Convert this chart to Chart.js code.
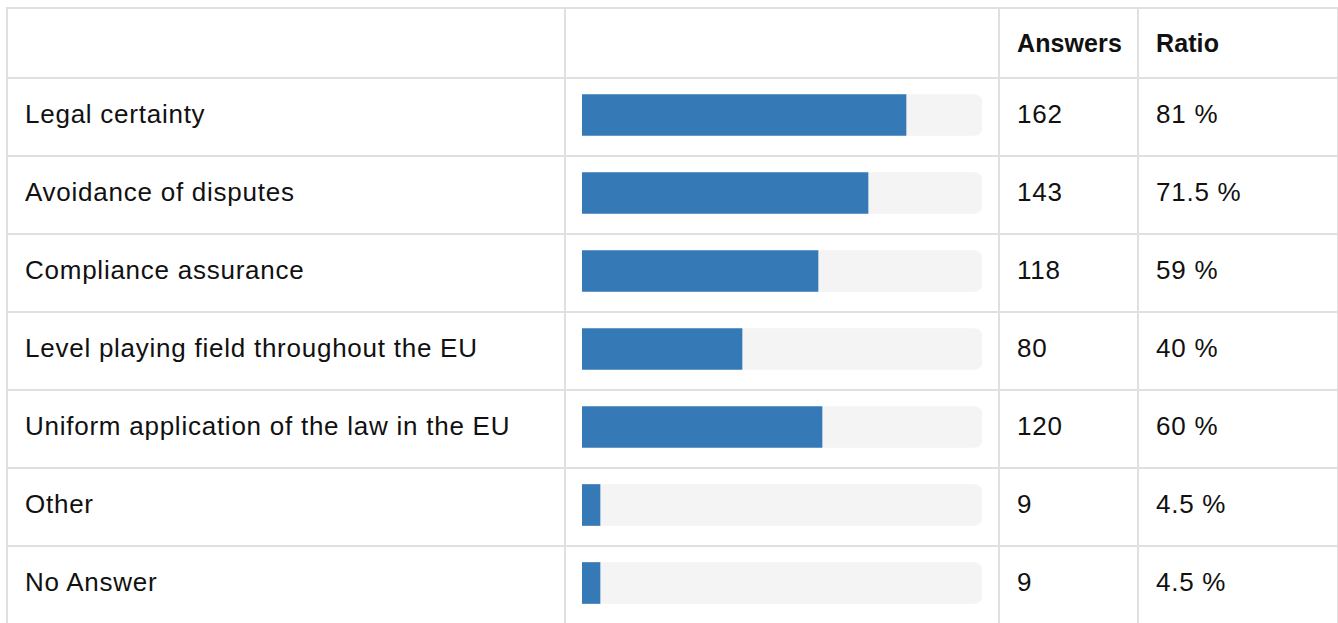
<!DOCTYPE html>
<html>
<head>
<meta charset="utf-8">
<script src="https://cdn.jsdelivr.net/npm/chart.js@4.4.1/dist/chart.umd.min.js"></script>
<style>
    body { margin: 0; background: #fff; width: 1338px; height: 623px; overflow: hidden; position: relative;
           font-family: "Liberation Sans", Arial, Helvetica, sans-serif; }
    table { position: absolute; left: 6px; top: 7px; width: 1331px; border-collapse: collapse; table-layout: fixed; }
    th, td { border: 2px solid #e0e0e0; padding: 0 0 0 17px; font-size: 26px; letter-spacing: 0.75px;
             text-align: left; color: #111; font-weight: normal; }
    thead th { height: 68px; font-weight: bold; letter-spacing: 0.1px; font-size: 25px; }
    tbody td { height: 76px; }
    tbody td span { position: relative; top: -3px; }
    #barWrap { position: absolute; left: 582px; top: 76px; width: 400px; height: 546px; }
</style>
</head>
<body>
<table id="tbl">
    <colgroup>
        <col style="width:558px">
        <col style="width:434px">
        <col style="width:139px">
        <col style="width:200px">
    </colgroup>
    <thead><tr><th></th><th></th><th>Answers</th><th>Ratio</th></tr></thead>
    <tbody id="rows"></tbody>
</table>
<div id="barWrap"><canvas id="barChart"></canvas></div>

<script>
const categories = [
    'Legal certainty',
    'Avoidance of disputes',
    'Compliance assurance',
    'Level playing field throughout the EU',
    'Uniform application of the law in the EU',
    'Other',
    'No Answer'
];
const answers = [162, 143, 118, 80, 120, 9, 9];
const ratios = ['81 %', '71.5 %', '59 %', '40 %', '60 %', '4.5 %', '4.5 %'];
const totalRespondents = 200;

// table rows (text only, bars come from the chart)
const tbody = document.getElementById('rows');
categories.forEach((name, i) => {
    const tr = document.createElement('tr');
    tr.innerHTML = `<td><span>${name}</span></td><td></td><td><span>${answers[i]}</span></td><td><span>${ratios[i]}</span></td>`;
    tbody.appendChild(tr);
});

const ctx = document.getElementById('barChart').getContext('2d');
new Chart(ctx, {
    type: 'bar',
    data: {
        labels: categories,
        datasets: [{
            label: 'Answers',
            data: answers,
            backgroundColor: '#357ab7',
            barThickness: 41,
            grouped: false
        }, {
            label: 'Track',
            data: categories.map(() => totalRespondents),
            backgroundColor: '#f4f4f4',
            borderRadius: 8,
            borderSkipped: false,
            barThickness: 41,
            grouped: false
        }]
    },
    options: {
        indexAxis: 'y',
        responsive: true,
        maintainAspectRatio: false,
        animation: false,
        layout: { padding: 0 },
        scales: {
            x: { display: false, min: 0, max: totalRespondents },
            y: { display: false }
        },
        plugins: {
            legend: { display: false },
            tooltip: { enabled: false }
        }
    }
});
</script>
</body>
</html>
